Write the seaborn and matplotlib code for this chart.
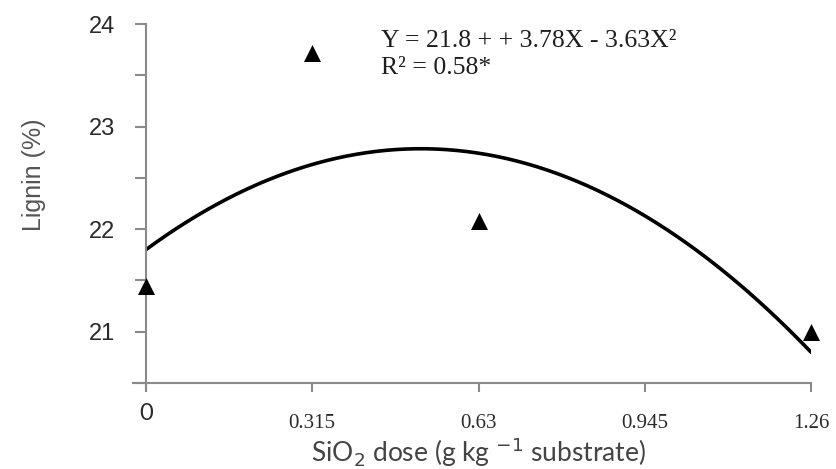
import numpy as np
import pandas as pd
import matplotlib
matplotlib.use("Agg")
import matplotlib.pyplot as plt
import seaborn as sns

# Observed lignin content per SiO2 dose
doses = [0.0, 0.315, 0.63, 1.26]
lignin = [21.45, 23.72, 22.08, 21.0]

# Quadratic fit coefficients: Y = b0 + b1*X + b2*X^2
b0, b1, b2 = 21.8, 3.78, -3.63

x_ticks = [0, 0.315, 0.63, 0.945, 1.26]
x_tick_labels = ["0", "0.315", "0.63", "0.945", "1.26"]
y_ticks = [21, 22, 23, 24]

sns.set_style("white")
plt.rcParams["font.family"] = ["Liberation Sans", "DejaVu Sans"]

fig = plt.figure(figsize=(8.37, 4.69), dpi=100)
ax = fig.add_axes([0.1744, 0.1834, 0.7946, 0.7654])

pts = pd.DataFrame({"dose": doses, "lignin": lignin})
xs = np.linspace(0, 1.26, 200)
fit = pd.DataFrame({"dose": xs, "lignin": b0 + b1 * xs + b2 * xs ** 2})

sns.lineplot(data=fit, x="dose", y="lignin", color="black", linewidth=2.6, ax=ax, zorder=2)
sns.scatterplot(data=pts, x="dose", y="lignin", marker="^", s=150, color="black",
                edgecolor="black", linewidth=0, ax=ax, zorder=3, clip_on=False)

ax.set_xlim(0, 1.26)
ax.set_ylim(20.5, 24)

axis_col = "#8a8a8a"
for side in ["top", "right"]:
    ax.spines[side].set_visible(False)
for side in ["left", "bottom"]:
    ax.spines[side].set_color(axis_col)
    ax.spines[side].set_linewidth(1.5)
ax.spines["bottom"].set_bounds(-0.025, 1.26)
ax.spines["left"].set_bounds(20.44, 24)

ax.set_xticks(x_ticks)
ax.set_xticklabels(x_tick_labels)
y_all = np.arange(20.5, 24.01, 0.5)
ax.set_yticks(y_all)
ax.set_yticklabels([str(int(v)) if v in y_ticks else "" for v in y_all])
ax.tick_params(axis="y", left=True, direction="out", length=8, width=1.5, color=axis_col,
               pad=14, labelsize=17, labelcolor="#2a2a2a")
ax.tick_params(axis="x", bottom=True, direction="out", length=6.5, width=1.5, color=axis_col,
               pad=8, labelsize=15, labelcolor="#2a2a2a")
for lab in ax.get_xticklabels():
    if lab.get_text() == "0":
        lab.set_fontfamily(["Lato", "DejaVu Sans"])
        lab.set_fontsize(17)
    else:
        lab.set_fontfamily(["Liberation Serif", "DejaVu Serif"])
        lab.set_y(-0.03)

ax.set_xlabel("SiO$_2$ dose (g kg $^{-1}$ substrate)", fontsize=19, color="#444444",
              family=["Lato", "DejaVu Sans"])
ax.set_ylabel("Lignin (%)", fontsize=18, color="#555555")
ax.xaxis.set_label_coords(0.5, -0.145)
ax.yaxis.set_label_coords(-0.15, 0.58)

ax.text(0.446, 23.83, "Y = 21.8 + + 3.78X - 3.63X\u00b2", fontsize=18.5,
        family=["Liberation Serif", "DejaVu Serif"], color="#1e1e1e", va="center")
ax.text(0.446, 23.57, "R\u00b2 = 0.58*", fontsize=18.5,
        family=["Liberation Serif", "DejaVu Serif"], color="#1e1e1e", va="center")

fig.savefig("out.png", dpi=100)
